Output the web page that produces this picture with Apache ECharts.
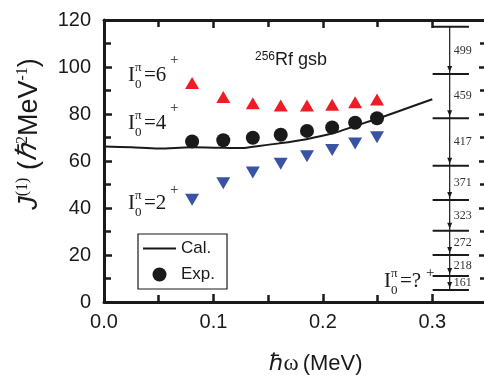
<!DOCTYPE html>
<html><head><meta charset="utf-8">
<script src="https://cdn.jsdelivr.net/npm/echarts@6/dist/echarts.min.js"></script>
<style>html,body{margin:0;padding:0;background:#fff}#c{width:484px;height:375px}</style>
</head><body><div id="c"></div>
<script>
// rotational frequency (MeV) of each transition
const hw = [0.0805, 0.109, 0.136, 0.1615, 0.1855, 0.2085, 0.2295, 0.2495];
// kinematic moment of inertia for the three spin assignments
const expJ = [68.3, 68.8, 69.9, 71.2, 72.8, 74.3, 76.3, 78.2];   // I0 = 4+
const j6   = [93.2, 87.2, 84.6, 83.6, 83.6, 83.9, 85.0, 86.2];   // I0 = 6+
const j2   = [43.5, 50.5, 55.1, 58.8, 62.0, 64.7, 67.5, 70.1];   // I0 = 2+
// calculated curve
const calX = [0, 0.025, 0.05, 0.08, 0.11, 0.125, 0.136, 0.16, 0.185, 0.21, 0.23, 0.25, 0.275, 0.30];
const calJ = [66.2, 65.8, 65.3, 65.8, 65.6, 65.5, 66.1, 67.5, 69.3, 71.9, 75.0, 78.0, 82.1, 86.3];
// level scheme (drawn in data units on the right)
const levelJ = [117.1, 97.0, 78.2, 58.0, 43.4, 30.3, 20.0, 11.1, 5.1];
const gammaE = ['499', '459', '417', '371', '323', '272', '218', '161'];
const xTickLabels = ['0.0', '0.1', '0.2', '0.3'];
const yTickLabels = ['0', '20', '40', '60', '80', '100', '120'];

const SANS = '"Liberation Sans", Arial, sans-serif';
const SERIF = '"Liberation Serif", "Times New Roman", serif';
const INK = '#1a1a1a';

const chart = echarts.init(document.getElementById('c'), null, {renderer: 'canvas'});

function xt(v) { const i = Math.round(v * 10); return Math.abs(v * 10 - i) < 1e-6 && xTickLabels[i] !== undefined ? xTickLabels[i] : ''; }
function yt(v) { const i = Math.round(v / 20); return Math.abs(v / 20 - i) < 1e-6 && yTickLabels[i] !== undefined ? yTickLabels[i] : ''; }

const axisCommon = {
  axisLine: {show: true, onZero: false, lineStyle: {color: INK, width: 3}},
  axisTick: {show: true, inside: true, length: 8, lineStyle: {color: INK, width: 2.5}},
  minorTick: {show: true, splitNumber: 2, length: 7, lineStyle: {color: INK, width: 2.5}},
  splitLine: {show: false},
  minorSplitLine: {show: false}
};

function ilabel(x, ymid, val, plusDy) {
  return {
    type: 'group', children: [
      {type: 'text', x: x, y: ymid, style: {text: 'I', font: '21px ' + SERIF, fill: INK, verticalAlign: 'middle'}},
      {type: 'text', x: x + 7, y: ymid - 7, style: {text: 'π', font: '13px ' + SERIF, fill: INK, verticalAlign: 'middle'}},
      {type: 'text', x: x + 7, y: ymid + 10, style: {text: '0', font: '13px ' + SERIF, fill: INK, verticalAlign: 'middle'}},
      {type: 'text', x: x + 16, y: ymid, style: {text: '=' + val, font: '21px ' + SERIF, fill: INK, verticalAlign: 'middle'}},
      {type: 'text', x: x + 42, y: ymid + plusDy, style: {text: '+', font: '15px ' + SERIF, fill: INK, verticalAlign: 'middle'}}
    ]
  };
}

const option = {
  backgroundColor: '#fff',
  animation: false,
  grid: {left: 104, top: 20, width: 383, height: 282, outerBoundsMode: 'none', containLabel: false},
  xAxis: [
    Object.assign({}, axisCommon, {
      type: 'value', position: 'bottom', min: 0, max: 0.35, interval: 0.1,
      axisLabel: {show: true, margin: 10, fontSize: 20, fontFamily: SANS, color: INK, formatter: xt, showMaxLabel: false}
    }),
    Object.assign({}, axisCommon, {
      type: 'value', position: 'top', min: 0, max: 0.35, interval: 0.1,
      axisLabel: {show: false}
    })
  ],
  yAxis: [
    Object.assign({}, axisCommon, {
      type: 'value', position: 'left', min: 0, max: 120, interval: 20,
      axisLabel: {show: true, margin: 13, fontSize: 20, fontFamily: SANS, color: INK, formatter: yt}
    }),
    Object.assign({}, axisCommon, {
      type: 'value', position: 'right', min: 0, max: 120, interval: 20,
      axisLabel: {show: false}
    })
  ],
  legend: {
    orient: 'vertical', left: 138, top: 234,
    padding: [6, 12, 6, 5], itemGap: 9, itemWidth: 33, itemHeight: 14,
    borderColor: INK, borderWidth: 1.2, backgroundColor: '#fff',
    textStyle: {fontSize: 17, fontFamily: SANS, color: INK},
    data: [{name: 'Cal.', icon: 'path://M0,0h33v2h-33z'}, {name: 'Exp.', icon: 'circle'}],
    selectedMode: false
  },
  series: [
    {
      name: 'Cal.', type: 'line', smooth: 0.3, symbol: 'none', showSymbol: false,
      data: calX.map((x, i) => [x, calJ[i]]),
      lineStyle: {color: INK, width: 2}, itemStyle: {color: INK, opacity: 1}, z: 3
    },
    {
      name: 'Exp.', type: 'scatter', symbol: 'circle', symbolSize: 14,
      data: hw.map((x, i) => [x, expJ[i]]), itemStyle: {color: INK, opacity: 1}, z: 4
    },
    {
      name: 'I0=6', type: 'scatter', symbol: 'triangle', symbolSize: [14, 12],
      data: hw.map((x, i) => [x, j6[i]]), itemStyle: {color: '#ee1c25', opacity: 1}, z: 4
    },
    {
      name: 'I0=2', type: 'scatter', symbol: 'triangle', symbolRotate: 180, symbolSize: [14, 12],
      data: hw.map((x, i) => [x, j2[i]]), itemStyle: {color: '#3953a4', opacity: 1}, z: 4
    },
    {
      name: 'levels', type: 'custom', clip: false, z: 5,
      data: levelJ.map((v, i) => [0.3159, v, i]),
      encode: {x: 0, y: 1},
      renderItem: function (params, api) {
        const i = params.dataIndex;
        const J = api.value(1);
        const p1 = api.coord([0.3003, J]), p2 = api.coord([0.3335, J]);
        const children = [{type: 'line', shape: {x1: p1[0], y1: p1[1], x2: p2[0], y2: p2[1]}, style: {stroke: INK, lineWidth: 2}}];
        if (i < levelJ.length - 1) {
          const a = api.coord([0.3159, J]), b = api.coord([0.3159, levelJ[i + 1]]);
          children.push({type: 'line', shape: {x1: a[0], y1: a[1], x2: b[0], y2: b[1]}, style: {stroke: INK, lineWidth: 1.2}});
          children.push({type: 'polygon', shape: {points: [[b[0] - 2.5, b[1] - 8], [b[0] + 2.5, b[1] - 8], [b[0], b[1] - 2]]}, style: {fill: INK}});
          children.push({type: 'text', x: a[0] + 4, y: (a[1] + b[1]) / 2, style: {text: gammaE[i], font: '12px ' + SERIF, fill: '#333', verticalAlign: 'middle', align: 'left'}});
        }
        return {type: 'group', children: children};
      }
    }
  ],
  graphic: [
    {
      type: 'text', x: 316, y: 364,
      style: {
        text: '{a|ℏω}{b|(MeV)}', align: 'center', verticalAlign: 'middle',
        rich: {a: {font: '23px ' + SERIF, fill: INK, padding: [0, 4, 0, 0]}, b: {font: '22px ' + SANS, fill: INK}}
      }
    },
    {
      type: 'text', x: 29, y: 134, rotation: Math.PI / 2,
      style: {
        text: '{j|J}{s|(1)}{b| (}{h|ℏ}{s|2}{b|MeV}{s|-1}{b|)}', align: 'center', verticalAlign: 'middle',
        rich: {
          j: {font: 'italic 27px ' + SANS, fill: INK, verticalAlign: 'bottom'},
          b: {font: '27px ' + SANS, fill: INK, verticalAlign: 'bottom'},
          h: {font: 'italic 28px ' + SERIF, fill: INK, verticalAlign: 'bottom'},
          s: {font: '16px ' + SERIF, fill: INK, verticalAlign: 'top'}
        }
      }
    },
    {
      type: 'text', x: 255, y: 60,
      style: {
        text: '{s|256}{b|Rf gsb}', verticalAlign: 'middle',
        rich: {s: {font: '12px ' + SANS, fill: INK, verticalAlign: 'top'}, b: {font: '18px ' + SANS, fill: INK, verticalAlign: 'bottom'}}
      }
    },
    ilabel(128, 75, '6', -15),
    ilabel(128, 123, '4', -15),
    ilabel(128, 203, '2', -13),
    ilabel(384, 281, '?', -8)
  ]
};
chart.setOption(option);
</script>
</body></html>
